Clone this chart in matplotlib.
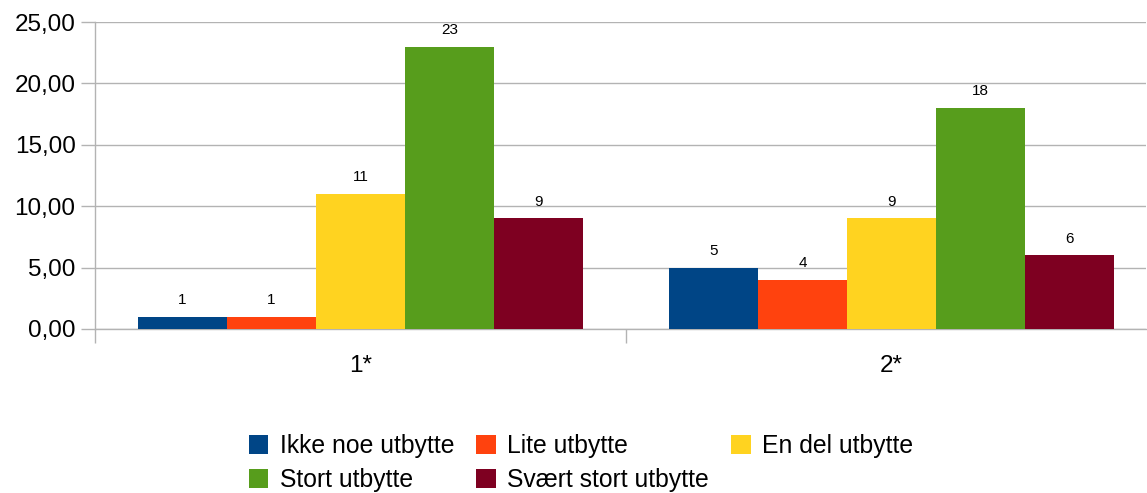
import matplotlib.pyplot as plt
from matplotlib.ticker import FuncFormatter, FixedLocator
import numpy as np

plt.rcParams['font.family'] = ['Liberation Sans', 'DejaVu Sans']

categories = ['1*', '2*']
series_names = ['Ikke noe utbytte', 'Lite utbytte', 'En del utbytte', 'Stort utbytte', 'Svært stort utbytte']
values = [
    [1, 5],
    [1, 4],
    [11, 9],
    [23, 18],
    [9, 6],
]
colors = ['#004586', '#ff420e', '#ffd320', '#579d1c', '#7e0021']

fig = plt.figure(figsize=(11.47, 4.93), dpi=100)
ax = fig.add_axes([95 / 1147, 1 - 329 / 493, 1051 / 1147, 307 / 493])

x = np.arange(len(categories))
w = 0.1676
handles = []
for i, (name, vals, c) in enumerate(zip(series_names, values, colors)):
    bars = ax.bar(x + (i - 2) * w, vals, width=w, color=c, label=name, zorder=3)
    handles.append(bars)
    for b, v in zip(bars, vals):
        ax.annotate(str(v), (b.get_x() + b.get_width() / 2, v), xytext=(0, 12),
                    textcoords='offset points', ha='center', va='center', fontsize=11)

ax.set_xlim(-0.5, 1.479)
ax.set_ylim(0, 25)
ax.set_yticks(np.arange(0, 26, 5))
ax.yaxis.set_major_formatter(FuncFormatter(lambda v, p: f'{v:.2f}'.replace('.', ',')))
ax.grid(axis='y', color='#b3b3b3', lw=1, zorder=0)

ax.set_xticks(x)
ax.set_xticklabels(categories, fontsize=17.5)
ax.tick_params(axis='x', length=0, pad=19)
ax.xaxis.set_minor_locator(FixedLocator([-0.5, 0.5]))
ax.tick_params(axis='x', which='minor', length=10, color='#b3b3b3', width=1)
ax.tick_params(axis='y', length=10, color='#b3b3b3', width=1, labelsize=17.5, pad=4)

for s in ['top', 'right']:
    ax.spines[s].set_visible(False)
for s in ['left', 'bottom']:
    ax.spines[s].set_color('#b3b3b3')
    ax.spines[s].set_linewidth(1)

order = [0, 3, 1, 4, 2]
fig.legend([handles[i] for i in order], [series_names[i] for i in order],
           loc='center', bbox_to_anchor=(581 / 1147, 1 - 463 / 493), ncol=3,
           frameon=False, fontsize=17.8, handlelength=0.8, handleheight=0.8,
           handletextpad=0.45, columnspacing=0.9, labelspacing=0.42, borderpad=0)

fig.savefig('out.png', dpi=100)
